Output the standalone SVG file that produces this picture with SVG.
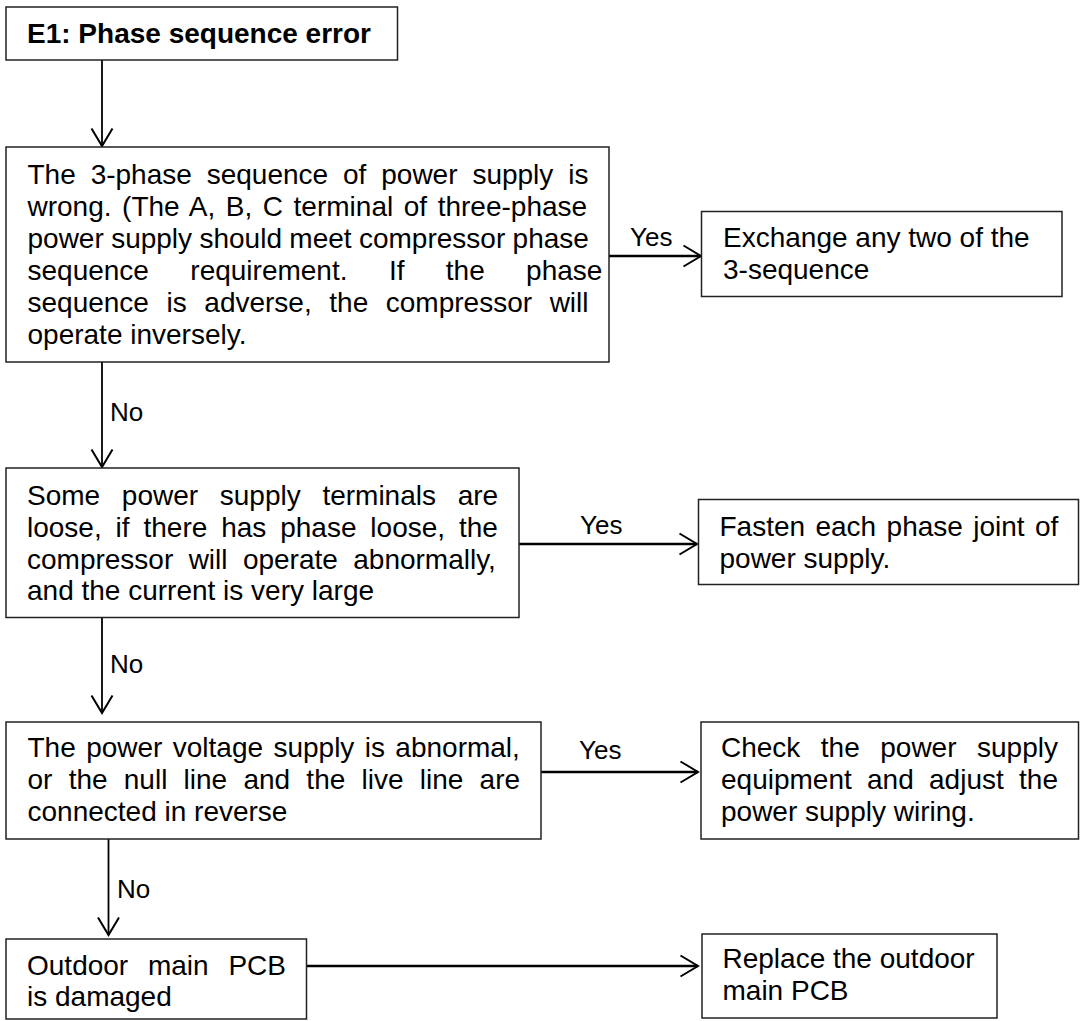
<svg xmlns="http://www.w3.org/2000/svg" width="1084" height="1021" viewBox="0 0 1084 1021">
<defs>
<style>
.box{fill:#fff;stroke:#222;stroke-width:1.5}
.t{font-family:"Liberation Sans",Arial,sans-serif;font-size:28px;fill:#000}
.b{font-weight:bold}
.lbl{font-family:"Liberation Sans",Arial,sans-serif;font-size:26px;fill:#000}
.c{fill:none;stroke:#000;stroke-width:1.8}
.h{stroke-width:2.6}
</style>
<marker id="arr" markerUnits="userSpaceOnUse" markerWidth="24" markerHeight="26" viewBox="-2 -13 22 26" refX="17.5" refY="0" orient="auto">
<path d="M0,-10.5 L17.5,0 L0,10.5" fill="none" stroke="#000" stroke-width="2"/>
</marker>
</defs>
<rect width="1084" height="1021" fill="#fff"/>

<g id="connectors">
<line class="c" x1="102" y1="60" x2="102" y2="146" marker-end="url(#arr)"/>
<line class="c h" x1="609" y1="256" x2="701" y2="256" marker-end="url(#arr)"/>
<line class="c" x1="102" y1="362" x2="102" y2="467" marker-end="url(#arr)"/>
<line class="c h" x1="519" y1="544" x2="697" y2="544" marker-end="url(#arr)"/>
<line class="c" x1="102" y1="618" x2="102" y2="713" marker-end="url(#arr)"/>
<line class="c h" x1="541" y1="772" x2="698" y2="772" marker-end="url(#arr)"/>
<line class="c" x1="108.5" y1="839" x2="108.5" y2="935" marker-end="url(#arr)"/>
<line class="c h" x1="306.5" y1="966" x2="698" y2="966" marker-end="url(#arr)"/>
<text class="lbl" x="630" y="246">Yes</text>
<text class="lbl" x="110" y="421">No</text>
<text class="lbl" x="580" y="534">Yes</text>
<text class="lbl" x="110" y="673">No</text>
<text class="lbl" x="579" y="759">Yes</text>
<text class="lbl" x="117" y="898">No</text>
</g>

<g id="n1">
<rect class="box" x="6" y="7" width="391.5" height="53"/>
<text class="t b" x="27" y="43">E1: Phase sequence error</text>
</g>

<g id="n2">
<rect class="box" x="6" y="147" width="603" height="215"/>
<text class="t" x="27.5" y="184" word-spacing="7.1">The 3-phase sequence of power supply is</text>
<text class="t" x="27.5" y="216" word-spacing="2.8">wrong. (The A, B, C terminal of three-phase</text>
<text class="t" x="27.5" y="248" word-spacing="-0.4">power supply should meet compressor phase</text>
<text class="t" x="27.5" y="280" word-spacing="33.6">sequence requirement. If the phase</text>
<text class="t" x="27.5" y="312" word-spacing="9.8">sequence is adverse, the compressor will</text>
<text class="t" x="27.5" y="344">operate inversely.</text>
</g>

<g id="n3">
<rect class="box" x="701.5" y="211.5" width="360.5" height="85"/>
<text class="t" x="723" y="247">Exchange any two of the</text>
<text class="t" x="723" y="279">3-sequence</text>
</g>

<g id="n4">
<rect class="box" x="6" y="468" width="513" height="149.5"/>
<text class="t" x="27" y="505" word-spacing="13.9">Some power supply terminals are</text>
<text class="t" x="27" y="537" word-spacing="6.1">loose, if there has phase loose, the</text>
<text class="t" x="27" y="568.5" word-spacing="7.6">compressor will operate abnormally,</text>
<text class="t" x="27" y="600">and the current is very large</text>
</g>

<g id="n5">
<rect class="box" x="698.5" y="499.5" width="380" height="85"/>
<text class="t" x="719.5" y="536" word-spacing="2.6">Fasten each phase joint of</text>
<text class="t" x="719.5" y="568">power supply.</text>
</g>

<g id="n6">
<rect class="box" x="6" y="722" width="535" height="117"/>
<text class="t" x="27.5" y="757" word-spacing="2.6">The power voltage supply is abnormal,</text>
<text class="t" x="27.5" y="789" word-spacing="8.45">or the null line and the live line are</text>
<text class="t" x="27.5" y="821">connected in reverse</text>
</g>

<g id="n7">
<rect class="box" x="701" y="722" width="377.5" height="117"/>
<text class="t" x="721" y="757" word-spacing="12.7">Check the power supply</text>
<text class="t" x="721" y="789" word-spacing="7.5">equipment and adjust the</text>
<text class="t" x="721" y="821">power supply wiring.</text>
</g>

<g id="n8">
<rect class="box" x="6" y="939" width="300.5" height="80"/>
<text class="t" x="27" y="975" word-spacing="12">Outdoor main PCB</text>
<text class="t" x="27" y="1006">is damaged</text>
</g>

<g id="n9">
<rect class="box" x="702" y="934" width="295" height="84"/>
<text class="t" x="722.5" y="968">Replace the outdoor</text>
<text class="t" x="722.5" y="1000">main PCB</text>
</g>
</svg>
